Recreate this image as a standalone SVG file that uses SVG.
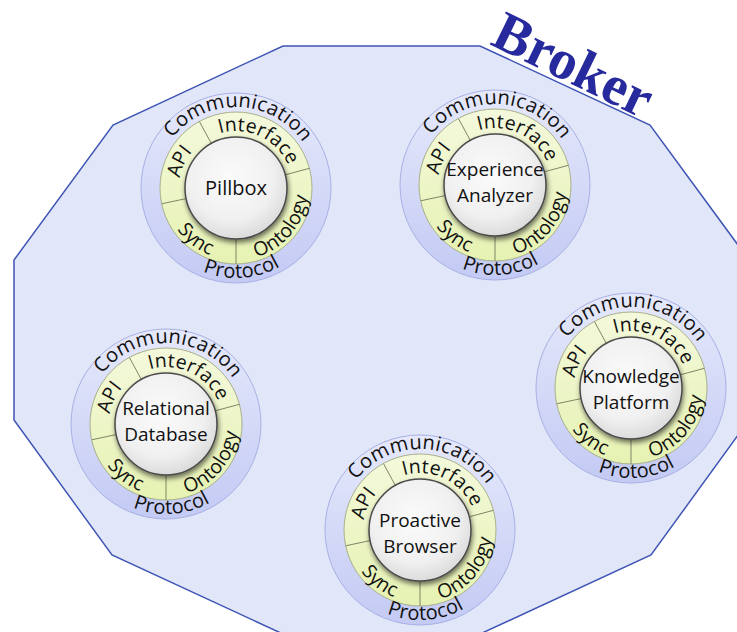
<svg xmlns="http://www.w3.org/2000/svg" xmlns:xlink="http://www.w3.org/1999/xlink" width="737" height="632" viewBox="0 0 737 632">
<style>
.ring{font-family:"Open Sans","Noto Sans",sans-serif;fill:#111;font-weight:500;}
.outerT{font-size:20px;letter-spacing:0.3px;}
.innerT{font-size:19.5px;letter-spacing:0.2px;}
.label{font-family:"Open Sans","Noto Sans",sans-serif;font-size:20px;fill:#111;text-anchor:middle;}
.two{font-size:19px;}
.div{stroke:#7f8566;stroke-width:1;}
</style>
<defs>
<linearGradient id="gOuter" x1="0" y1="0" x2="0" y2="1">
<stop offset="0" stop-color="#e6e9fb"/>
<stop offset="1" stop-color="#c3caf4"/>
</linearGradient>
<linearGradient id="gYellow" x1="0" y1="0" x2="0" y2="1">
<stop offset="0" stop-color="#f4f9dc"/>
<stop offset="1" stop-color="#e6f2b2"/>
</linearGradient>
<radialGradient id="gCore" cx="0.45" cy="0.4" r="0.6">
<stop offset="0" stop-color="#fbfbfb"/>
<stop offset="0.7" stop-color="#f0f0f0"/>
<stop offset="1" stop-color="#dcdcdc"/>
</radialGradient>
<filter id="shadow" x="-30%" y="-30%" width="160%" height="160%">
<feDropShadow dx="1" dy="3" stdDeviation="2.5" flood-color="#000" flood-opacity="0.55"/>
</filter>
<path id="cw81" d="M -81 0 A 81 81 0 0 1 81 0"/>
<path id="cw58" d="M -57 0 A 57 57 0 0 1 57 0"/>
<path id="ccw89" d="M -90 0 A 90 90 0 0 0 90 0"/>
<path id="ccw71" d="M -72 0 A 72 72 0 0 0 72 0"/>
<g id="base">
<circle r="95" fill="url(#gOuter)" stroke="#a7b0e4" stroke-width="1"/>
<circle r="76" fill="url(#gYellow)" stroke="#a9b08a" stroke-width="1"/>
<line class="div" x1="-50" y1="10.6" x2="-74.3" y2="15.8"/>
<line class="div" x1="-24.7" y1="-44.6" x2="-36.6" y2="-66.5"/>
<line class="div" x1="49.3" y1="-13.2" x2="73.4" y2="-19.7"/>
<line class="div" x1="0" y1="51" x2="0" y2="76"/>
<circle r="51" fill="url(#gCore)" stroke="#4a4a4a" stroke-width="1.5" filter="url(#shadow)"/>
</g>
</defs>

<polygon id="broker" points="283,46 480,46 650,125 749,260 749,420 651,555 480,634 283,634 112,555 14,420 14,260 113,125" fill="#e1e7f8" stroke="#3f55b5" stroke-width="1.5"/>
<text id="broker-label" transform="translate(489,44) rotate(26)" font-family="Liberation Serif,serif" font-weight="bold" font-size="56" fill="#262a9c">Broker</text>

<g id="connectors"></g>

<g id="node-pillbox" transform="translate(236,188)">
<use href="#base"/>
<text class="ring outerT" transform="rotate(2)"><textPath href="#cw81" startOffset="50%" text-anchor="middle">Communication</textPath></text>
<text class="ring outerT" transform="rotate(-4)"><textPath href="#ccw89" startOffset="50%" text-anchor="middle">Protocol</textPath></text>
<text class="ring innerT" transform="rotate(-65)"><textPath href="#cw58" startOffset="50%" text-anchor="middle">API</textPath></text>
<text class="ring innerT" transform="rotate(25)"><textPath href="#cw58" startOffset="50%" text-anchor="middle">Interface</textPath></text>
<text class="ring innerT" transform="rotate(-50)"><textPath href="#ccw71" startOffset="50%" text-anchor="middle">Ontology</textPath></text>
<text class="ring innerT" transform="rotate(38)"><textPath href="#ccw71" startOffset="50%" text-anchor="middle">Sync</textPath></text>
<text class="label" x="0" y="7">Pillbox</text>
</g>

<g id="node-experience-analyzer" transform="translate(495,185)">
<use href="#base"/>
<text class="ring outerT" transform="rotate(2)"><textPath href="#cw81" startOffset="50%" text-anchor="middle">Communication</textPath></text>
<text class="ring outerT" transform="rotate(-4)"><textPath href="#ccw89" startOffset="50%" text-anchor="middle">Protocol</textPath></text>
<text class="ring innerT" transform="rotate(-65)"><textPath href="#cw58" startOffset="50%" text-anchor="middle">API</textPath></text>
<text class="ring innerT" transform="rotate(25)"><textPath href="#cw58" startOffset="50%" text-anchor="middle">Interface</textPath></text>
<text class="ring innerT" transform="rotate(-50)"><textPath href="#ccw71" startOffset="50%" text-anchor="middle">Ontology</textPath></text>
<text class="ring innerT" transform="rotate(38)"><textPath href="#ccw71" startOffset="50%" text-anchor="middle">Sync</textPath></text>
<text class="label two"><tspan x="0" y="-9">Experience</tspan><tspan x="0" y="17">Analyzer</tspan></text>
</g>

<g id="node-relational-database" transform="translate(166,424)">
<use href="#base"/>
<text class="ring outerT" transform="rotate(2)"><textPath href="#cw81" startOffset="50%" text-anchor="middle">Communication</textPath></text>
<text class="ring outerT" transform="rotate(-4)"><textPath href="#ccw89" startOffset="50%" text-anchor="middle">Protocol</textPath></text>
<text class="ring innerT" transform="rotate(-65)"><textPath href="#cw58" startOffset="50%" text-anchor="middle">API</textPath></text>
<text class="ring innerT" transform="rotate(25)"><textPath href="#cw58" startOffset="50%" text-anchor="middle">Interface</textPath></text>
<text class="ring innerT" transform="rotate(-50)"><textPath href="#ccw71" startOffset="50%" text-anchor="middle">Ontology</textPath></text>
<text class="ring innerT" transform="rotate(38)"><textPath href="#ccw71" startOffset="50%" text-anchor="middle">Sync</textPath></text>
<text class="label two"><tspan x="0" y="-9">Relational</tspan><tspan x="0" y="17">Database</tspan></text>
</g>

<g id="node-knowledge-platform" transform="translate(631,388)">
<use href="#base"/>
<text class="ring outerT" transform="rotate(2)"><textPath href="#cw81" startOffset="50%" text-anchor="middle">Communication</textPath></text>
<text class="ring outerT" transform="rotate(-4)"><textPath href="#ccw89" startOffset="50%" text-anchor="middle">Protocol</textPath></text>
<text class="ring innerT" transform="rotate(-65)"><textPath href="#cw58" startOffset="50%" text-anchor="middle">API</textPath></text>
<text class="ring innerT" transform="rotate(25)"><textPath href="#cw58" startOffset="50%" text-anchor="middle">Interface</textPath></text>
<text class="ring innerT" transform="rotate(-50)"><textPath href="#ccw71" startOffset="50%" text-anchor="middle">Ontology</textPath></text>
<text class="ring innerT" transform="rotate(38)"><textPath href="#ccw71" startOffset="50%" text-anchor="middle">Sync</textPath></text>
<text class="label two"><tspan x="0" y="-5">Knowledge</tspan><tspan x="0" y="21">Platform</tspan></text>
</g>

<g id="node-proactive-browser" transform="translate(420,530)">
<use href="#base"/>
<text class="ring outerT" transform="rotate(2)"><textPath href="#cw81" startOffset="50%" text-anchor="middle">Communication</textPath></text>
<text class="ring outerT" transform="rotate(-4)"><textPath href="#ccw89" startOffset="50%" text-anchor="middle">Protocol</textPath></text>
<text class="ring innerT" transform="rotate(-65)"><textPath href="#cw58" startOffset="50%" text-anchor="middle">API</textPath></text>
<text class="ring innerT" transform="rotate(25)"><textPath href="#cw58" startOffset="50%" text-anchor="middle">Interface</textPath></text>
<text class="ring innerT" transform="rotate(-50)"><textPath href="#ccw71" startOffset="50%" text-anchor="middle">Ontology</textPath></text>
<text class="ring innerT" transform="rotate(38)"><textPath href="#ccw71" startOffset="50%" text-anchor="middle">Sync</textPath></text>
<text class="label two"><tspan x="0" y="-3">Proactive</tspan><tspan x="0" y="23">Browser</tspan></text>
</g>
</svg>
